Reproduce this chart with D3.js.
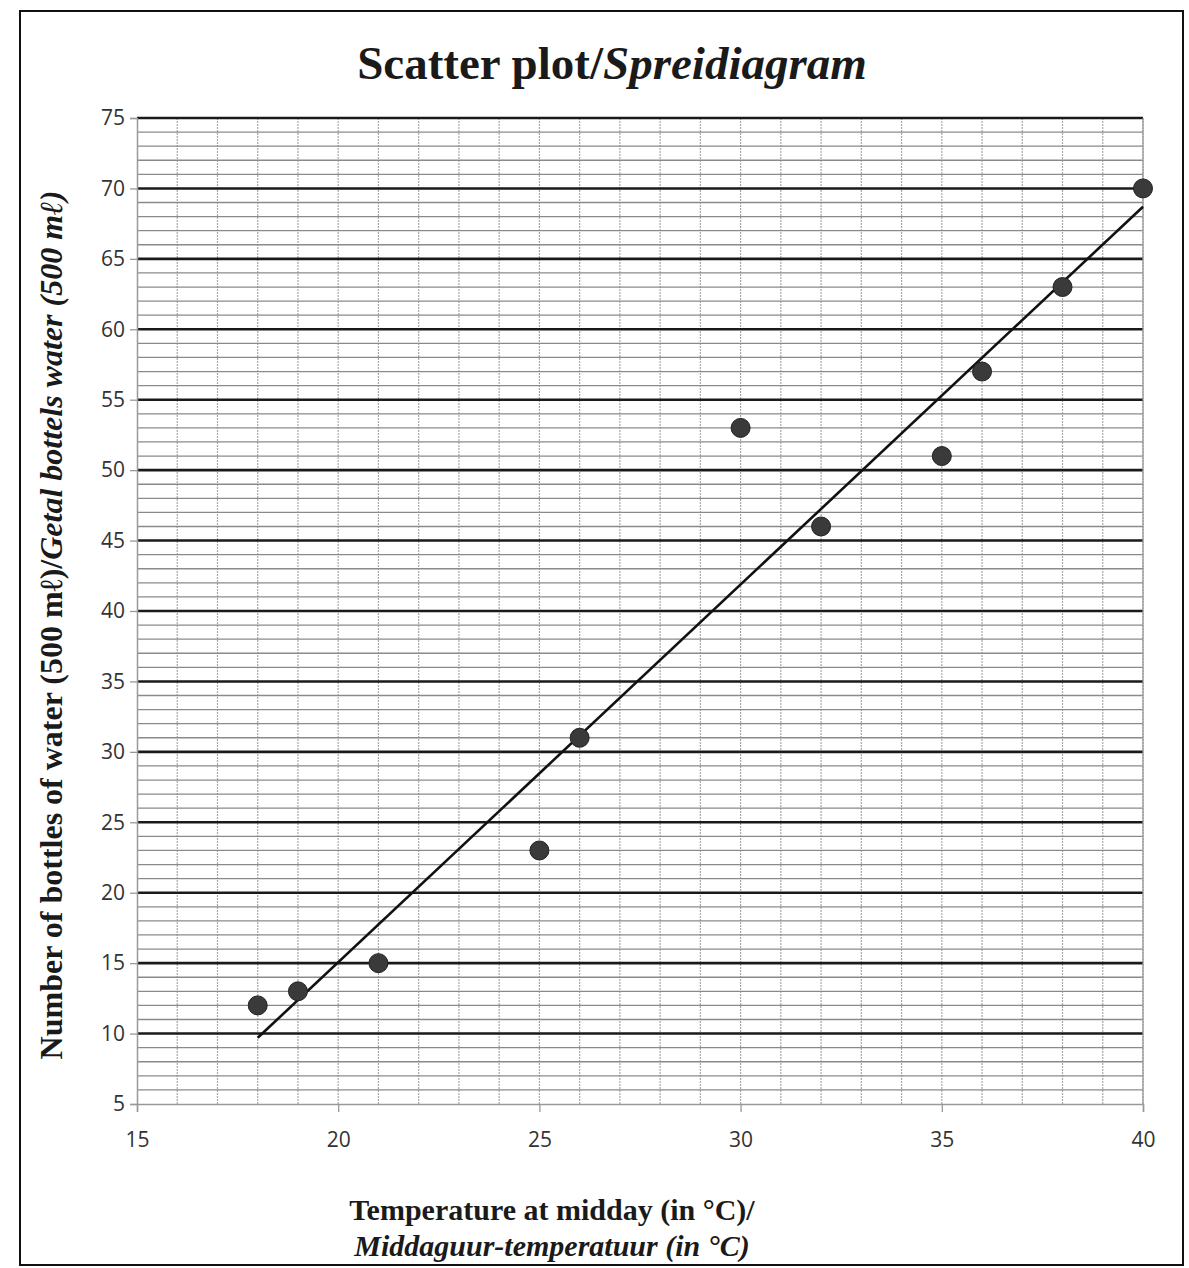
<!DOCTYPE html>
<html>
<head>
<meta charset="utf-8">
<script src="https://cdn.jsdelivr.net/npm/d3@7"></script>
<style>
  body { margin: 0; background: #fff; }
</style>
</head>
<body>
<script>
// Data
const temperature = [18, 19, 21, 25, 26, 30, 32, 35, 36, 38, 40];
const bottles = [12, 13, 15, 23, 31, 53, 46, 51, 57, 63, 70];
const trendX = [18, 40];
const trendY = [9.7, 68.7];
const xTicks = [15, 20, 25, 30, 35, 40];
const yTicks = [5, 10, 15, 20, 25, 30, 35, 40, 45, 50, 55, 60, 65, 70, 75];

var svgWidth = 1189, svgHeight = 1268;
const margin = {top: 118, right: 46, bottom: 164, left: 137};
var width = svgWidth - margin.left - margin.right;
var height = svgHeight - margin.top - margin.bottom;

const root = d3.select("body").append("svg")
    .attr("width", svgWidth)
    .attr("height", svgHeight);

// Outer frame
root.append("rect")
    .attr("x", 20).attr("y", 11)
    .attr("width", 1163).attr("height", 1254)
    .attr("fill", "none")
    .attr("stroke", "#111")
    .attr("stroke-width", 2);

// Title
const title = root.append("text")
    .attr("x", 612).attr("y", 79)
    .attr("text-anchor", "middle")
    .style("font-family", "'Liberation Serif', 'Times New Roman', serif")
    .style("font-weight", "bold")
    .style("font-size", "47px")
    .attr("fill", "#1a1a1a");
title.append("tspan").text("Scatter plot/");
title.append("tspan").style("font-style", "italic").text("Spreidiagram");

const svg = root.append("g")
    .attr("transform", `translate(${margin.left},${margin.top})`);

var x = d3.scaleLinear().domain([15, 40]).range([0, width]);
var y = d3.scaleLinear().domain([5, 75]).range([height, 0]);

// Vertical grid (every 1 degree)
svg.append("g")
    .selectAll("line")
    .data(d3.range(16, 41))
    .enter().append("line")
    .attr("x1", d => x(d)).attr("x2", d => x(d))
    .attr("y1", 0).attr("y2", height)
    .attr("stroke", "#a8a8a8")
    .attr("stroke-width", 1.2)
    .attr("stroke-dasharray", "2,1");

// Minor horizontal grid (every 1 bottle)
svg.append("g")
    .selectAll("line")
    .data(d3.range(6, 75).filter(d => d % 5 !== 0))
    .enter().append("line")
    .attr("x1", 0).attr("x2", width)
    .attr("y1", d => y(d)).attr("y2", d => y(d))
    .attr("stroke", "#8a8a8a")
    .attr("stroke-width", 1.3);

// Major horizontal grid
svg.append("g")
    .selectAll("line")
    .data(yTicks.filter(d => d > 5))
    .enter().append("line")
    .attr("x1", 0).attr("x2", width)
    .attr("y1", d => y(d)).attr("y2", d => y(d))
    .attr("stroke", "#1a1a1a")
    .attr("stroke-width", 2.6);

// Axes
const yAxis = svg.append("g")
    .call(d3.axisLeft(y).tickValues(yTicks).tickSize(7).tickPadding(5));
const xAxis = svg.append("g")
    .attr("transform", `translate(0,${height})`)
    .call(d3.axisBottom(x).tickValues(xTicks).tickSize(8).tickPadding(20));

[xAxis, yAxis].forEach(function(a) {
    a.select(".domain").attr("stroke", "#999").attr("stroke-width", 1.5);
    a.selectAll(".tick line").attr("stroke", "#999").attr("stroke-width", 1.3);
    a.selectAll("text")
        .style("font-family", "'Open Sans', 'Liberation Sans', sans-serif")
        .style("font-size", "21px")
        .attr("fill", "#333");
});

// Right border of the plot area
svg.append("line")
    .attr("x1", width).attr("x2", width)
    .attr("y1", 0).attr("y2", height)
    .attr("stroke", "#999").attr("stroke-width", 1.3);

// Trend line
svg.append("line")
    .attr("x1", x(trendX[0])).attr("y1", y(trendY[0]))
    .attr("x2", x(trendX[1])).attr("y2", y(trendY[1]))
    .attr("stroke", "#111")
    .attr("stroke-width", 2.6);

// Points
svg.selectAll(".dot")
    .data(temperature.map((t, i) => ({t: t, b: bottles[i]})))
    .enter().append("circle")
    .attr("class", "dot")
    .attr("cx", d => x(d.t))
    .attr("cy", d => y(d.b))
    .attr("r", 9.5)
    .attr("fill", "#3a3a3a")
    .attr("stroke", "#222")
    .attr("stroke-width", 1);

// Y axis label
const yLabel = root.append("text")
    .attr("transform", "translate(62,625) rotate(-90)")
    .attr("text-anchor", "middle")
    .style("font-family", "'Liberation Serif', 'Times New Roman', serif")
    .style("font-weight", "bold")
    .style("font-size", "32px")
    .attr("fill", "#1a1a1a");
yLabel.append("tspan").text("Number of bottles of water (500 m\u2113)/");
yLabel.append("tspan").style("font-style", "italic").text("Getal bottels water (500 m\u2113)");

// X axis label
root.append("text")
    .attr("x", 552).attr("y", 1220)
    .attr("text-anchor", "middle")
    .style("font-family", "'Liberation Serif', 'Times New Roman', serif")
    .style("font-weight", "bold")
    .style("font-size", "30px")
    .attr("fill", "#1a1a1a")
    .text("Temperature at midday (in \u00B0C)/");
root.append("text")
    .attr("x", 552).attr("y", 1256)
    .attr("text-anchor", "middle")
    .style("font-family", "'Liberation Serif', 'Times New Roman', serif")
    .style("font-weight", "bold")
    .style("font-style", "italic")
    .style("font-size", "30px")
    .attr("fill", "#1a1a1a")
    .text("Middaguur-temperatuur (in \u00B0C)");
</script>
</body>
</html>
